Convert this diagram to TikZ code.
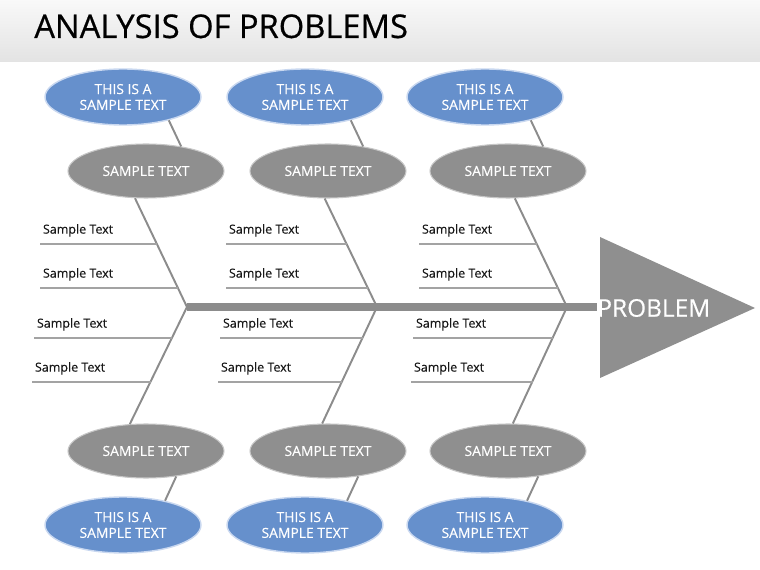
\documentclass[tikz,border=0pt]{standalone}
\usepackage{fontspec}
\setmainfont{Open Sans}
\newfontfamily\heavyfont[FakeBold=0.6]{Open Sans}
\newfontfamily\midfont[FakeBold=0.3]{Open Sans}
\usetikzlibrary{shapes.geometric,calc}
\definecolor{boneGray}{HTML}{8C8C8C}
\definecolor{ovalGray}{HTML}{8F8F8F}
\definecolor{ovalBlue}{HTML}{6690CC}
\definecolor{ovalRim}{HTML}{C9D8F0}
\definecolor{ribGray}{HTML}{A3A3A3}
\begin{document}
\begin{tikzpicture}[x=0.02cm,y=-0.02cm,
    cause/.style={ellipse,fill=ovalGray,draw=gray!45,line width=0.6pt,minimum width=3.12cm,minimum height=1.08cm,inner sep=0pt,text=white,font=\midfont\fontsize{7.9}{9}\selectfont},
    detail/.style={ellipse,fill=ovalBlue,draw=ovalRim,line width=0.8pt,minimum width=3.12cm,minimum height=1.12cm,inner sep=0pt,text=white,align=center,font=\midfont\fontsize{7.9}{9}\selectfont},
    bone/.style={draw=boneGray,line width=1.1pt},
    rib/.style={draw=ribGray,line width=1.1pt},
    smp/.style={above right,inner xsep=1.5pt,inner ysep=4pt,text=black!90,font=\midfont\fontsize{7.1}{8}\selectfont}]
    \fill[white] (0,0) rectangle (760,570);
    \useasboundingbox (0,0) rectangle (760,570);
    \shade[top color=gray!5,bottom color=gray!22] (0,0) rectangle (760,62);
    \node[anchor=base west,inner sep=0pt,font=\heavyfont\fontsize{18.6}{20}\selectfont] (title) at (34,38) {ANALYSIS OF PROBLEMS};
    \fill[ovalGray] (600,237) -- (600,378) -- (755,308) -- cycle;
    \node[anchor=west,inner sep=0pt,text=white,font=\midfont\fontsize{13.9}{15}\selectfont] (prob) at (597,308) {PROBLEM};
    \coordinate (j1) at (187,307);
    \draw[boneGray,line width=5pt] (j1) -- (j1 -| prob.west);
    \foreach \i/\dx/\dj/\dr/\ta/\ba in {1/0/0/0/-112/121, 2/182/190/186/-97/102, 3/362/380/379/-76/80} {
      \coordinate (j\i) at (187+\dj,307);
      \node[cause] (gt\i) at (146+\dx,171) {SAMPLE TEXT};
      \node[cause] (gb\i) at (146+\dx,451) {SAMPLE TEXT};
      \node[detail] (bt\i) at (123+\dx,97) {THIS IS A\\SAMPLE TEXT};
      \node[detail] (bb\i) at (123+\dx,525) {THIS IS A\\SAMPLE TEXT};
      \draw[bone] (bt\i.-27) -- (gt\i.35);
      \draw[bone] (gb\i.-40) -- (bb\i.30);
      \draw[bone] (j\i) -- (gt\i.\ta);
      \draw[bone] (j\i) -- (gb\i.\ba);
      \path (j\i) -- (gt\i.\ta) coordinate[pos=0.578] (ra\i) coordinate[pos=0.174] (rb\i);
      \path (j\i) -- (gb\i.\ba) coordinate[pos=0.263] (rc\i) coordinate[pos=0.636] (rd\i);
      \coordinate (sa\i) at (40+\dr,244);
      \coordinate (sb\i) at (40+\dr,288);
      \coordinate (sc\i) at (34+\dr,338);
      \coordinate (sd\i) at (32+\dr,382);
      \draw[rib] (sa\i) -- (sa\i -| ra\i);
      \draw[rib] (sb\i) -- (sb\i -| rb\i);
      \draw[rib] (sc\i) -- (sc\i -| rc\i);
      \draw[rib] (sd\i) -- (sd\i -| rd\i);
      \node[smp] (la\i) at (sa\i) {Sample Text};
      \node[smp] (lb\i) at (sb\i) {Sample Text};
      \node[smp] (lc\i) at (sc\i) {Sample Text};
      \node[smp] (ld\i) at (sd\i) {Sample Text};
    }
  \end{tikzpicture}
\end{document}
